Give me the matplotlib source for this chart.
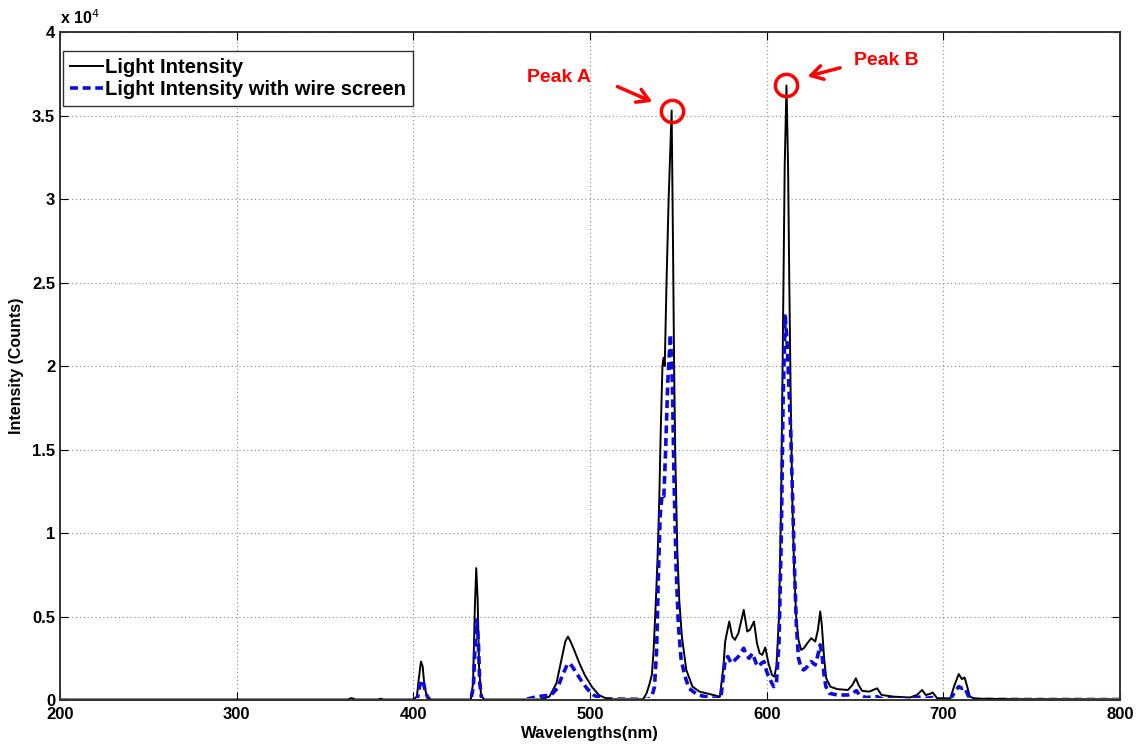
import matplotlib
matplotlib.use("Agg")
import matplotlib.pyplot as plt
from matplotlib.patches import Rectangle
from matplotlib.ticker import FuncFormatter, MultipleLocator

plt.rcParams['font.family'] = ['Liberation Sans', 'DejaVu Sans']

# ---- data (intensity in counts) ----
wl_plain = [200, 300, 363, 365, 367, 380, 381.5, 383, 400, 402, 403, 404.3, 405.3, 406.3, 408, 410,
            432.5, 433.8, 434.8, 435.6, 436.4, 437.2, 438.3, 440, 472, 477, 481, 484, 486, 487.5, 489,
            491, 494, 497, 501, 505, 509, 513, 530, 532, 533.5, 535, 536, 537.3, 538.2, 539.2, 540,
            541, 541.6, 542.3, 543.3, 544.5, 546.2, 547, 547.6, 548.2, 549.4, 550.5, 552, 554.5, 558,
            562, 566, 573.5, 575.5, 576.5, 578.8, 580.5, 582, 584, 587, 589, 590.5, 592.8, 594.5, 596,
            597.5, 599.2, 601, 603, 604.3, 605.5, 607, 608.2, 609.2, 610.2, 611.2, 612.1, 612.8, 613.6,
            614.5, 615.5, 616.7, 618, 619.5, 621, 623, 625.2, 627.5, 629, 630.3, 631.2, 632.5, 633.7,
            636, 640, 646, 648.5, 650.5, 652, 654, 658, 662.5, 665, 672, 681, 685, 688, 690, 692, 694,
            696.5, 704, 706, 708.7, 710.5, 712, 713.5, 715, 718, 740, 800]
int_plain = [30, 30, 30, 120, 30, 30, 80, 30, 30, 200, 1200, 2300, 2000, 800, 100, 30,
             30, 1000, 5500, 7900, 6000, 2000, 300, 30, 30, 200, 1000, 2500, 3500, 3800, 3500,
             3000, 2200, 1500, 800, 300, 100, 40, 40, 400, 900, 1500, 3000, 6000, 8400, 12000, 16000,
             20000, 20500, 20000, 25000, 30000, 35300, 27000, 20000, 15000, 9000, 6000, 3800, 1800, 800,
             500, 400, 200, 2000, 3500, 4700, 3800, 3600, 4000, 5400, 4100, 4200, 4700, 3400, 2800,
             2700, 3150, 2200, 1500, 1400, 2000, 5000, 12000, 22000, 32000, 36800, 32000, 25000, 18000,
             12000, 8000, 5000, 3600, 3000, 3100, 3400, 3700, 3500, 4200, 5300, 4500, 2500, 1300,
             800, 650, 600, 900, 1300, 900, 550, 500, 700, 300, 200, 150, 300, 600, 300, 350, 450,
             100, 100, 800, 1550, 1250, 1350, 800, 200, 80, 50, 40]

wl_screen = [200, 401, 402.5, 403.5, 404.8, 405.8, 407, 408.5, 410, 432.5, 434, 435, 436, 436.8, 437.6,
             438.6, 440, 462, 470, 478, 481.5, 484.5, 487, 488.5, 490, 493, 496, 499, 502, 505, 509, 533,
             535, 536.5, 537.7, 538.7, 539.7, 540.8, 541.8, 542.8, 544, 545.5, 546.6, 547.6, 548.7,
             550, 551.5, 553.5, 556, 561, 568, 574, 575.5, 576.5, 578, 580, 582, 584, 587, 588.5, 590,
             592, 594, 595.5, 597, 598.5, 600, 602, 604, 605.5, 607, 608.3, 609.3, 610.5, 611.5, 612.5,
             613.6, 614.7, 615.7, 616.8, 618, 619.6, 621, 623, 625.2, 627.5, 629, 630.3, 631.2, 632.5,
             633.5, 635.5, 640, 646, 648.5, 650.8, 652.5, 656, 662.5, 665, 680, 688, 690, 694, 696,
             704, 706.5, 708.7, 710.5, 712, 713.5, 715, 720, 800]
int_screen = [0, 0, 200, 800, 1200, 1000, 400, 100, 0, 0, 800, 3500, 4800, 3500, 1000,
              100, 0, 0, 200, 300, 700, 1500, 2100, 2200, 2000, 1500, 1000, 600, 300, 150, 60, 40,
              200, 800, 3000, 7500, 11000, 12300, 12200, 15000, 19000, 21900, 19000, 13000, 8000,
              4500, 2500, 1500, 700, 300, 150, 50, 1500, 2400, 2600, 2200, 2400, 2600, 3100, 2700, 2500,
              2800, 2200, 2000, 2200, 2300, 1700, 1200, 800, 1000, 3500, 10000, 18000, 23000, 21500, 19000,
              16000, 12000, 8000, 4500, 2500, 1900, 1800, 2000, 2300, 2100, 2700, 3300, 2800, 1500,
              800, 400, 300, 300, 400, 560, 300, 150, 200, 80, 50, 200, 100, 150, 40,
              40, 500, 800, 700, 750, 400, 80, 30, 30]

labels = ['Light Intensity', 'Light Intensity with wire screen']
peak_labels = ['Peak A', 'Peak B']
peak_wl = [546.2, 611.2]
peak_int = [35300, 36800]

fig = plt.figure(figsize=(11.43, 7.45), dpi=100)
ax = fig.add_axes([0.0525, 0.0604, 0.9274, 0.8966])

ax.plot(wl_plain, int_plain, color='black', lw=1.4, label=labels[0], zorder=2.0)
blue, = ax.plot(wl_screen, int_screen, color='#0a0ae0', lw=2.6, ls=(0, (2.2, 1.3)),
                label=labels[1], zorder=2.1)
clip = Rectangle((0, 0.0032), 1, 1, transform=ax.transAxes, fill=False, visible=False)
ax.add_patch(clip)
blue.set_clip_path(clip)

ax.set_xlim(200, 800)
ax.set_ylim(0, 40000)
ax.xaxis.set_major_locator(MultipleLocator(100))
ax.yaxis.set_major_locator(MultipleLocator(5000))
ax.yaxis.set_major_formatter(FuncFormatter(lambda v, p: '%g' % (v / 1e4)))
ax.grid(True, ls=(0, (1, 2.5)), color='#888888', lw=0.8)
ax.tick_params(direction='in', length=6, top=True, right=True, labelsize=12, width=0.8)
ax.tick_params(axis='x', pad=5)
for lab in ax.get_xticklabels() + ax.get_yticklabels():
    lab.set_fontweight('bold')
for s in ax.spines.values():
    s.set_color('#333333')
    s.set_linewidth(1.4)
    s.set_zorder(2.5)

ax.set_xlabel('Wavelengths(nm)', fontsize=12, fontweight='bold', labelpad=3)
ax.set_ylabel('Intensity (Counts)', fontsize=11.5, fontweight='bold', labelpad=6)
ax.text(0.0, 1.008, r'x 10$^{4}$', transform=ax.transAxes, fontsize=11.5, fontweight='bold',
        ha='left', va='bottom')

leg = ax.legend(loc='upper left', bbox_to_anchor=(0.003, 0.972), borderaxespad=0,
                prop={'weight': 'bold', 'size': 14.6}, fancybox=False, edgecolor='#333333',
                framealpha=1, handlelength=1.6, handletextpad=0.12, borderpad=0.35,
                labelspacing=0.15)
leg.get_frame().set_linewidth(1.0)
leg.set_zorder(6)

# peak markers and annotations
ax.plot(peak_wl, peak_int, ls='none', marker='o', ms=16, mfc='none', mec='red', mew=2.5, zorder=5)
ax.annotate('', xy=(536.7, 35750), xytext=(514.1, 36800),
            arrowprops=dict(arrowstyle='->,head_length=0.85,head_width=0.5', color='red', lw=2.5))
ax.annotate('', xy=(621.6, 37300), xytext=(643.1, 37900),
            arrowprops=dict(arrowstyle='->,head_length=0.85,head_width=0.5', color='red', lw=2.5))
ax.text(482.4, 37300, peak_labels[0], color='red', fontsize=14, fontweight='bold', ha='center', va='center')
ax.text(667.5, 38300, peak_labels[1], color='red', fontsize=14, fontweight='bold', ha='center', va='center')

fig.savefig('out.png', dpi=100)
